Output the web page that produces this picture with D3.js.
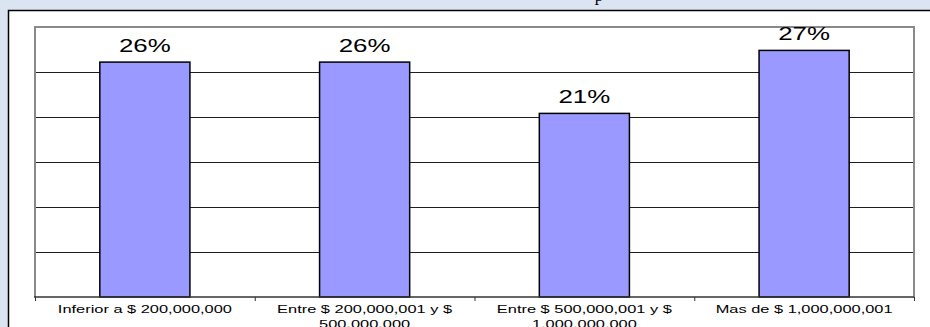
<!DOCTYPE html>
<html>
<head>
<meta charset="utf-8">
<script src="https://cdn.jsdelivr.net/npm/d3@7"></script>
<style>
  html, body { margin: 0; padding: 0; background: #dbe5f1; overflow: hidden; }
  svg { display: block; }
</style>
</head>
<body>
<div id="chart"></div>
<script>
// categories (wrapped as in the original), values and labels
const categories = [
    ["Inferior a $ 200,000,000"],
    ["Entre $ 200,000,001 y $", "500,000,000"],
    ["Entre $ 500,000,001 y $", "1,000,000,000"],
    ["Mas de $ 1,000,000,001"]
];
const values = [26.1, 26.1, 20.4, 27.4];
const valueLabels = ["26%", "26%", "21%", "27%"];
const gridTicks = [5, 10, 15, 20, 25];
const yDomain = [0, 30];

const width = 930;
const height = 327;
const margin = {top: 27, left: 35, right: 16, bottom: 30};

let svg = d3.select("#chart")
            .append("svg")
            .attr("width", width)
            .attr("height", height);

// cut-off title, only a descender shows
svg.append("text")
    .attr("x", 599)
    .attr("y", 1)
    .attr("text-anchor", "middle")
    .style("font-family", "'Liberation Serif', 'Times New Roman', serif")
    .style("font-size", "17px")
    .text("p");

// outer chart box
svg.append("rect")
    .attr("x", 8.5)
    .attr("y", 10.5)
    .attr("width", 940)
    .attr("height", 340)
    .style("fill", "#fff")
    .style("stroke", "#000")
    .style("stroke-width", 1.5);

const x0 = margin.left, x1 = width - margin.right;
const y0 = height - margin.bottom, y1 = margin.top;

let xScale = d3.scaleBand()
            .domain(d3.range(categories.length))
            .range([x0, x1])
            .paddingInner(0.59)
            .paddingOuter(0.295);

let yScale = d3.scaleLinear()
            .domain(yDomain)
            .range([y0, y1]);

// gridlines
svg.append("g")
    .attr("transform", "translate(" + x0 + ",0)")
    .call(d3.axisLeft(yScale).tickValues(gridTicks).tickSize(-(x1 - x0)).tickFormat(""))
    .call(g => g.select(".domain").remove())
    .selectAll("line")
    .style("stroke", "#1e1e1e")
    .style("stroke-width", 1);

// plot area border (left, top, right)
svg.append("path")
    .attr("d", "M" + x0 + "," + y0 + "V" + y1 + "H" + x1 + "V" + y0)
    .style("fill", "none")
    .style("stroke", "#8a8a8a")
    .style("stroke-width", 2);

// bars
svg.append("g").selectAll("rect")
    .data(values)
    .enter()
    .append("rect")
    .attr("x", function(d, i) {return xScale(i);})
    .attr("y", function(d) {return yScale(d);})
    .attr("width", xScale.bandwidth())
    .attr("height", function(d) {return yScale(0) - yScale(d);})
    .style("fill", "#9999ff")
    .style("stroke", "#000")
    .style("stroke-width", 1.5);

// bottom axis with ticks between categories
let edgeScale = d3.scaleLinear().domain([0, categories.length]).range([x0, x1]);
let xAxis = svg.append("g")
    .attr("transform", "translate(0," + y0 + ")")
    .call(d3.axisBottom(edgeScale).tickValues(d3.range(categories.length + 1)).tickSize(4).tickFormat(""));
xAxis.select(".domain").attr("d", "M" + (x0 - 1) + ",0H" + x1).style("stroke", "#333").style("stroke-width", 1.3);
xAxis.selectAll(".tick line").style("stroke", "#333");

// data labels
svg.append("g").selectAll("g")
    .data(values)
    .enter()
    .append("g")
    .attr("transform", function(d, i) {
        return "translate(" + (xScale(i) + xScale.bandwidth() / 2) + "," + (yScale(d) - 10.5) + ") scale(1.44,1)";
    })
    .append("text")
    .attr("text-anchor", "middle")
    .style("font-family", "'Liberation Sans', Arial, sans-serif")
    .style("font-size", "18px")
    .style("fill", "#000")
    .text(function(d, i) {return valueLabels[i];});

// category labels
let catG = svg.append("g").selectAll("g")
    .data(categories)
    .enter()
    .append("g")
    .attr("transform", function(d, i) {
        return "translate(" + (xScale(i) + xScale.bandwidth() / 2) + "," + 313 + ") scale(1.64,1)";
    });

catG.append("text")
    .attr("text-anchor", "middle")
    .style("font-family", "'Liberation Sans', Arial, sans-serif")
    .style("font-size", "10px")
    .style("fill", "#000")
    .selectAll("tspan")
    .data(function(d) {return d;})
    .enter()
    .append("tspan")
    .attr("x", 0)
    .attr("dy", function(d, j) {return j === 0 ? 0 : 15;})
    .text(function(d) {return d;});
</script>
</body>
</html>
